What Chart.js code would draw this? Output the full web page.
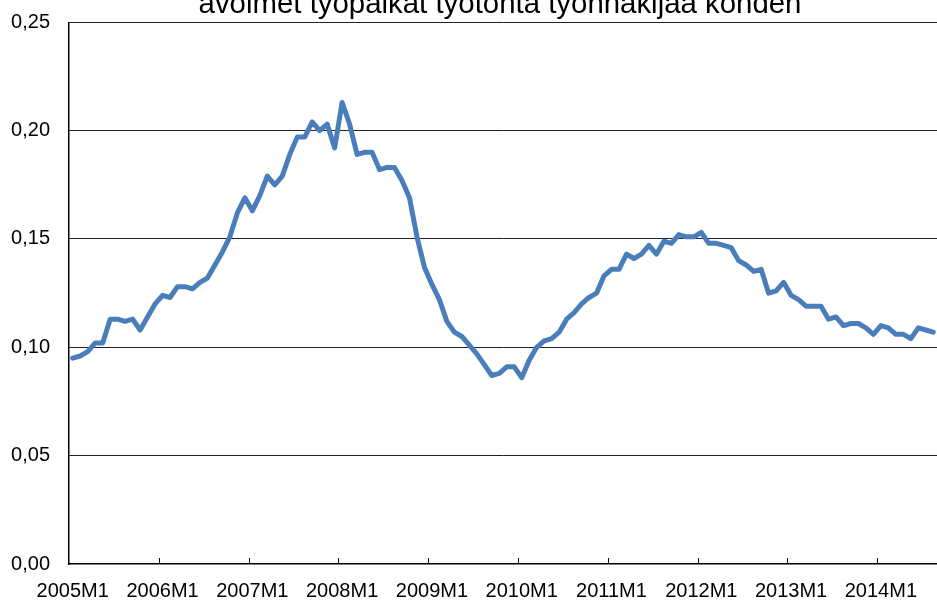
<!DOCTYPE html>
<html>
<head>
<meta charset="utf-8">
<script src="https://cdn.jsdelivr.net/npm/chart.js@4/dist/chart.umd.min.js"></script>
<style>
  html, body { margin: 0; padding: 0; background: #fff; }
  #wrap { position: relative; width: 937px; height: 601px; overflow: hidden; }
  #chart { position: absolute; left: 0; top: -13px; }
</style>
</head>
<body>
<div id="wrap"><canvas id="chart" width="1000" height="614"></canvas></div>
<script>
// avoimet työpaikat / työtön työnhakija, kuukausittain 2005M1 - 2014M8
const titleText = 'avoimet työpaikat työtöntä työnhakijaa kohden';
const years = [2005, 2006, 2007, 2008, 2009, 2010, 2011, 2012, 2013, 2014];
const monthCount = 116;
const ratio = [
  0.095, 0.096, 0.098, 0.102, 0.102, 0.113, 0.113, 0.112, 0.113, 0.108, 0.114, 0.120, // 2005
  0.124, 0.123, 0.128, 0.128, 0.127, 0.130, 0.132, 0.138, 0.144, 0.151, 0.162, 0.169, // 2006
  0.163, 0.170, 0.179, 0.175, 0.179, 0.189, 0.197, 0.197, 0.204, 0.200, 0.203, 0.192, // 2007
  0.213, 0.203, 0.189, 0.190, 0.190, 0.182, 0.183, 0.183, 0.177, 0.169, 0.151, 0.137, // 2008
  0.129, 0.122, 0.112, 0.107, 0.105, 0.101, 0.097, 0.092, 0.087, 0.088, 0.091, 0.091, // 2009
  0.086, 0.094, 0.100, 0.103, 0.104, 0.107, 0.113, 0.116, 0.120, 0.123, 0.125, 0.133, // 2010
  0.136, 0.136, 0.143, 0.141, 0.143, 0.147, 0.143, 0.149, 0.148, 0.152, 0.151, 0.151, // 2011
  0.153, 0.148, 0.148, 0.147, 0.146, 0.140, 0.138, 0.135, 0.136, 0.125, 0.126, 0.130, // 2012
  0.124, 0.122, 0.119, 0.119, 0.119, 0.113, 0.114, 0.110, 0.111, 0.111, 0.109, 0.106, // 2013
  0.110, 0.109, 0.106, 0.106, 0.104, 0.109, 0.108, 0.107                              // 2014
];
const yTicks = [0, 0.05, 0.10, 0.15, 0.20, 0.25];

// kuukausitunnukset 2005M1, 2005M2, ...
const labels = [];
years.forEach(y => {
  for (let m = 1; m <= 12; m++) {
    if (labels.length < monthCount) labels.push(y + 'M' + m);
  }
});

// pienet jakoviivat x-akselille, sisäänpäin kuten Excelissä
const innerTicks = {
  id: 'innerTicks',
  afterDatasetsDraw(chart) {
    const x = chart.scales.x;
    const ctx = chart.ctx;
    const bottom = chart.chartArea.bottom;
    ctx.save();
    ctx.strokeStyle = '#000';
    ctx.lineWidth = 1;
    labels.forEach((l, i) => {
      if (i === 0 || !l.endsWith('M1')) return;
      const px = Math.round((x.getPixelForValue(i - 1) + x.getPixelForValue(i)) / 2) + 0.5;
      ctx.beginPath();
      ctx.moveTo(px, bottom);
      ctx.lineTo(px, bottom - 6);
      ctx.stroke();
    });
    ctx.restore();
  }
};

const ctx = document.getElementById('chart').getContext('2d');
new Chart(ctx, {
  type: 'line',
  data: {
    labels: labels,
    datasets: [{
      data: ratio,
      borderColor: '#4a7ebb',
      borderWidth: 5,
      borderJoinStyle: 'round',
      borderCapStyle: 'round',
      pointRadius: 0,
      tension: 0,
      fill: false
    }]
  },
  options: {
    responsive: false,
    animation: false,
    layout: { padding: 0 },
    plugins: {
      legend: { display: false },
      tooltip: { enabled: false },
      title: {
        display: true,
        text: titleText,
        color: '#000',
        font: { family: 'Liberation Sans, Arial, sans-serif', size: 29.4, weight: 'normal' },
        padding: { top: 0, bottom: 0 }
      }
    },
    scales: {
      x: {
        type: 'category',
        offset: true,
        grid: { display: false },
        border: { display: true, color: '#000', width: 1.5 },
        ticks: {
          autoSkip: false,
          maxRotation: 0,
          minRotation: 0,
          padding: 7,
          color: '#000',
          font: { family: 'Liberation Sans, Arial, sans-serif', size: 20 },
          callback: function (v, i) { return labels[i].endsWith('M1') ? labels[i] : ''; }
        },
        // kuvan oikea reuna on rajattu: piirtoalue jatkuu 937 px asti
        afterFit: function (s) { s.height = 37; s.paddingLeft = 0; s.paddingRight = 63; }
      },
      y: {
        min: 0,
        max: 0.25,
        afterBuildTicks: function (s) { s.ticks = yTicks.map(v => ({ value: v })); },
        grid: {
          color: c => c.tick.value === 0 ? 'transparent' : '#222',
          lineWidth: 1,
          drawTicks: false
        },
        border: { display: true, color: '#000', width: 1.5 },
        ticks: {
          padding: 19,
          color: '#000',
          font: { family: 'Liberation Sans, Arial, sans-serif', size: 20 },
          callback: v => v.toFixed(2).replace('.', ',')
        },
        afterFit: function (s) { s.width = 69; }
      }
    }
  },
  plugins: [innerTicks]
});
</script>
</body>
</html>
